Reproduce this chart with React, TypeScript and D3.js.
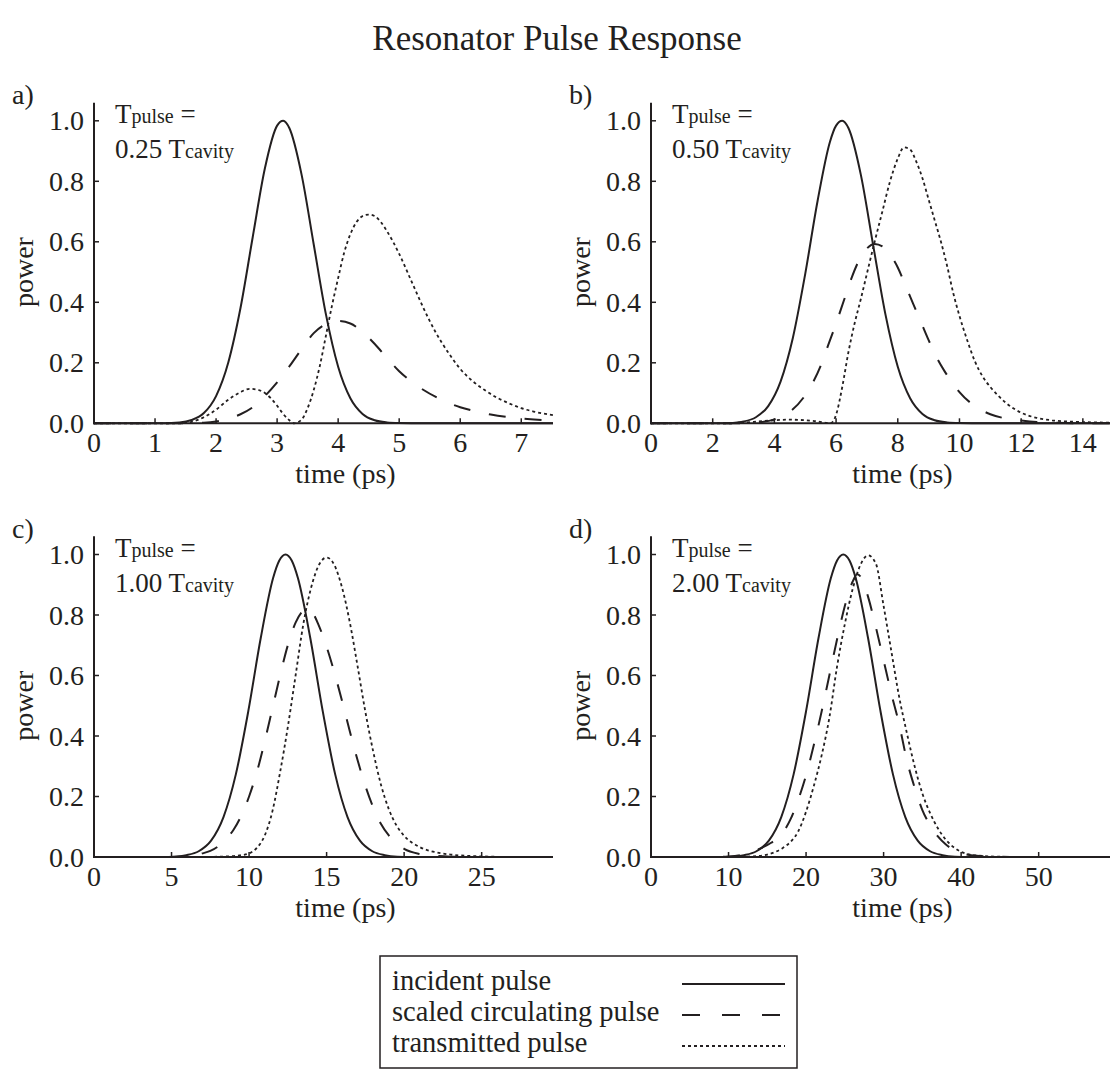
import React from 'react';
import * as d3 from 'd3';

type Pt = [number, number];

// ---- data: [time (ps), power] ----
const incidentA: Pt[] = [[0,0],[1.0,0.0001],[1.4,0.003],[1.6,0.011],[1.8,0.034],[2.0,0.09],[2.2,0.201],[2.4,0.381],[2.6,0.615],[2.8,0.843],[3.0,0.984],[3.1,1.0],[3.2,0.976],[3.4,0.823],[3.6,0.591],[3.8,0.36],[4.0,0.187],[4.2,0.083],[4.4,0.031],[4.6,0.01],[4.8,0.003],[5.0,0.001],[5.4,0],[7.52,0]];
const circA: Pt[] = [[0,0],[1.4,0],[1.8,0.002],[2.0,0.006],[2.2,0.015],[2.4,0.03],[2.6,0.053],[2.8,0.09],[3.0,0.135],[3.2,0.188],[3.4,0.245],[3.6,0.298],[3.8,0.328],[4.0,0.338],[4.2,0.33],[4.4,0.302],[4.6,0.262],[4.8,0.216],[5.0,0.172],[5.2,0.138],[5.4,0.11],[5.6,0.087],[5.8,0.068],[6.0,0.053],[6.2,0.042],[6.5,0.029],[6.8,0.02],[7.1,0.014],[7.52,0.009]];
const transA: Pt[] = [[0,0],[1.4,0],[1.6,0.005],[1.8,0.02],[2.0,0.045],[2.2,0.078],[2.4,0.103],[2.55,0.114],[2.7,0.11],[2.8,0.1],[2.9,0.082],[3.0,0.058],[3.1,0.031],[3.2,0.01],[3.28,0.0],[3.4,0.012],[3.5,0.05],[3.6,0.11],[3.7,0.19],[3.8,0.29],[3.9,0.39],[4.0,0.48],[4.1,0.565],[4.2,0.625],[4.3,0.665],[4.4,0.685],[4.5,0.69],[4.6,0.685],[4.7,0.665],[4.8,0.635],[4.9,0.6],[5.0,0.56],[5.2,0.47],[5.4,0.38],[5.6,0.3],[5.8,0.235],[6.0,0.18],[6.2,0.14],[6.4,0.11],[6.6,0.085],[6.8,0.066],[7.0,0.05],[7.2,0.039],[7.52,0.027]];

const incidentB: Pt[] = [[0,0],[2.4,0],[2.8,0.003],[3.0,0.006],[3.4,0.02],[3.8,0.057],[4.2,0.138],[4.6,0.283],[5.0,0.494],[5.4,0.735],[5.8,0.93],[6.0,0.984],[6.2,1.0],[6.4,0.976],[6.8,0.823],[7.2,0.59],[7.6,0.36],[8.0,0.187],[8.4,0.083],[8.8,0.031],[9.2,0.01],[9.6,0.003],[10.0,0.001],[10.8,0],[14.88,0]];
const circB: Pt[] = [[0,0],[3.0,0],[3.5,0.003],[4.0,0.013],[4.5,0.038],[5.0,0.093],[5.25,0.135],[5.5,0.19],[5.75,0.26],[6.0,0.33],[6.25,0.405],[6.5,0.48],[6.75,0.54],[7.0,0.578],[7.25,0.593],[7.5,0.585],[7.75,0.558],[8.0,0.515],[8.25,0.455],[8.5,0.395],[8.75,0.335],[9.0,0.275],[9.25,0.22],[9.5,0.175],[9.75,0.137],[10.0,0.103],[10.5,0.057],[11.0,0.03],[11.5,0.016],[12.0,0.009],[12.5,0.004],[13.0,0.002],[14.0,0],[14.88,0]];
const transB: Pt[] = [[0,0],[2.5,0],[3.0,0.002],[3.5,0.006],[4.0,0.01],[4.5,0.012],[5.0,0.01],[5.4,0.006],[5.7,0.001],[5.8,0],[5.9,0.006],[6.0,0.028],[6.2,0.12],[6.4,0.235],[6.6,0.33],[6.8,0.41],[7.0,0.495],[7.25,0.6],[7.5,0.7],[7.75,0.8],[8.0,0.875],[8.2,0.912],[8.4,0.905],[8.6,0.865],[8.8,0.81],[9.0,0.74],[9.2,0.67],[9.4,0.6],[9.6,0.52],[9.8,0.43],[10.0,0.355],[10.25,0.275],[10.5,0.205],[10.75,0.155],[11.0,0.12],[11.25,0.092],[11.5,0.068],[12.0,0.035],[12.5,0.018],[13.0,0.01],[13.5,0.006],[14.0,0.004],[14.88,0.002]];

const incidentC: Pt[] = [[0,0],[4.4,0],[5.2,0.001],[5.95,0.006],[6.75,0.019],[7.55,0.054],[8.35,0.132],[9.15,0.274],[9.95,0.482],[10.75,0.723],[11.55,0.922],[11.95,0.98],[12.35,1.0],[12.75,0.98],[13.15,0.922],[13.95,0.723],[14.75,0.482],[15.55,0.274],[16.35,0.132],[17.15,0.054],[17.95,0.019],[18.75,0.006],[19.55,0.001],[20.4,0],[29.6,0]];
const circC: Pt[] = [[0,0],[5,0],[6,0.004],[7,0.012],[7.5,0.02],[8.0,0.035],[8.5,0.058],[9.0,0.09],[9.5,0.137],[10.0,0.2],[10.5,0.28],[11.0,0.38],[11.5,0.49],[12.0,0.6],[12.5,0.7],[13.0,0.775],[13.5,0.815],[13.75,0.822],[14.0,0.815],[14.5,0.765],[15.0,0.695],[15.5,0.61],[16.0,0.515],[16.5,0.415],[17.0,0.32],[17.5,0.235],[18.0,0.165],[18.5,0.11],[19.0,0.072],[19.5,0.045],[20.0,0.027],[21.0,0.01],[22.0,0.004],[23.0,0.001],[24,0],[29.6,0]];
const transC: Pt[] = [[0,0],[7,0],[8,0.001],[9,0.003],[9.5,0.006],[10,0.012],[10.5,0.03],[11.0,0.07],[11.5,0.15],[12.0,0.28],[12.5,0.43],[13.0,0.6],[13.5,0.77],[14.0,0.89],[14.5,0.965],[15.0,0.99],[15.5,0.965],[16.0,0.89],[16.5,0.775],[17.0,0.63],[17.5,0.48],[18.0,0.35],[18.5,0.24],[19.0,0.16],[19.5,0.105],[20.0,0.07],[21.0,0.033],[22.0,0.016],[23.0,0.008],[24,0.004],[25,0.002],[27,0],[29.6,0]];

const incidentD: Pt[] = [[0,0],[8.8,0],[10.4,0.001],[12.0,0.006],[13.6,0.019],[15.2,0.054],[16.8,0.132],[18.4,0.274],[20.0,0.482],[21.6,0.723],[23.2,0.922],[24.0,0.98],[24.8,1.0],[25.6,0.98],[26.4,0.922],[28.0,0.723],[29.6,0.482],[31.2,0.274],[32.8,0.132],[34.4,0.054],[36.0,0.019],[37.6,0.006],[39.2,0.001],[40.8,0],[59.2,0]];
const circD: Pt[] = [[0,0],[8,0],[10,0.002],[12,0.009],[14,0.027],[15.5,0.047],[17,0.08],[18,0.125],[19,0.19],[20,0.27],[21,0.37],[22,0.48],[23,0.6],[24,0.72],[25,0.83],[26,0.91],[26.6,0.935],[27.2,0.92],[28,0.86],[29,0.76],[30,0.65],[31,0.54],[32,0.44],[33,0.32],[34,0.23],[35,0.155],[36,0.105],[37,0.068],[38,0.042],[39,0.024],[40,0.013],[42,0.004],[45,0.001],[47,0],[59.2,0]];
const transD: Pt[] = [[0,0],[10,0],[13,0.002],[15,0.008],[17,0.03],[18,0.05],[19,0.085],[20,0.15],[21,0.235],[22,0.335],[23,0.46],[24,0.63],[25,0.77],[26,0.885],[27,0.965],[28,0.997],[29,0.97],[30,0.83],[31,0.68],[32,0.53],[33,0.41],[34,0.3],[35,0.21],[36,0.145],[37,0.095],[38,0.058],[39,0.033],[40,0.017],[42,0.005],[45,0.001],[48,0],[59.2,0]];

const panelLetters = ['a)', 'b)', 'c)', 'd)'];
const pulseRatios = ['0.25', '0.50', '1.00', '2.00'];
const xMaxes = [7.52, 14.88, 29.6, 59.2];
const xTickSets = [
  [0, 1, 2, 3, 4, 5, 6, 7],
  [0, 2, 4, 6, 8, 10, 12, 14],
  [0, 5, 10, 15, 20, 25],
  [0, 10, 20, 30, 40, 50],
];
const yTicks = [0, 0.2, 0.4, 0.6, 0.8, 1.0];
const seriesByPanel: Pt[][][] = [
  [incidentA, circA, transA],
  [incidentB, circB, transB],
  [incidentC, circC, transC],
  [incidentD, circD, transD],
];
const legendLabels = ['incident pulse', 'scaled circulating pulse', 'transmitted pulse'];
const titleText = 'Resonator Pulse Response';
const xLabel = 'time (ps)';
const yLabel = 'power';

// ---- styles ----
const FONT = '"Liberation Serif", "Times New Roman", Times, serif';
const INK = '#231f20';
const lineStyles = [
  { dash: undefined as string | undefined, width: 2 },
  { dash: '17,19', width: 2 },
  { dash: '3,3', width: 1.8 },
];

function Panel({ i }: { i: number }) {
  const col = i % 2;
  const row = Math.floor(i / 2);
  const left = col ? 651 : 94;
  const base = row ? 857 : 423.3;
  const w = 459;
  const unit = 302.5;
  const x = d3.scaleLinear().domain([0, xMaxes[i]]).range([left, left + w]);
  const y = d3.scaleLinear().domain([0, 1]).range([base, base - unit]);
  const line = d3
    .line<Pt>()
    .x((d) => x(d[0]))
    .y((d) => y(d[1]))
    .curve(d3.curveMonotoneX);
  const fmt = d3.format('.1f');
  return (
    <g>
      {seriesByPanel[i].map((s, k) => (
        <path
          key={k}
          d={line(s) || ''}
          fill="none"
          stroke={INK}
          strokeWidth={lineStyles[k].width}
          strokeDasharray={lineStyles[k].dash}
        />
      ))}
      {/* axes */}
      <line x1={left} x2={left} y1={y(0) + 1} y2={y(1.06)} stroke={INK} strokeWidth={2} />
      <line x1={left - 1} x2={left + w} y1={y(0)} y2={y(0)} stroke={INK} strokeWidth={2} />
      {xTickSets[i].map((t) => (
        <g key={'x' + t}>
          <line x1={x(t)} x2={x(t)} y1={y(0)} y2={y(0) - 5} stroke={INK} strokeWidth={1.5} />
          <text x={x(t)} y={base + 29} textAnchor="middle" fontSize={28} fontFamily={FONT} fill={INK}>
            {t}
          </text>
        </g>
      ))}
      {yTicks.map((v) => (
        <g key={'y' + v}>
          <line x1={left} x2={left + 5} y1={y(v)} y2={y(v)} stroke={INK} strokeWidth={1.5} />
          <text x={left - 10} y={y(v) + 9.5} textAnchor="end" fontSize={28} fontFamily={FONT} fill={INK}>
            {fmt(v)}
          </text>
        </g>
      ))}
      <text x={left + w / 2 + 22} y={base + 60} textAnchor="middle" fontSize={28} fontFamily={FONT} fill={INK}>
        {xLabel}
      </text>
      <text
        transform={`translate(${left - 61},${y(0.5)}) rotate(-90)`}
        textAnchor="middle"
        fontSize={28}
        fontFamily={FONT}
        fill={INK}
      >
        {yLabel}
      </text>
      <text x={left - 82} y={base - 319.3} fontSize={28} fontFamily={FONT} fill={INK}>
        {panelLetters[i]}
      </text>
      <text x={left + 21} y={base - 300} fontSize={27} fontFamily={FONT} fill={INK}>
        T<tspan fontSize={20}>pulse</tspan> =
      </text>
      <text x={left + 21} y={base - 265} fontSize={27} fontFamily={FONT} fill={INK}>
        {pulseRatios[i]} T<tspan fontSize={20}>cavity</tspan>
      </text>
    </g>
  );
}

export default function App() {
  return (
    <svg
      width={1110}
      height={1070}
      viewBox="0 0 1110 1070"
      style={{ position: 'absolute', left: 0, top: 0, background: '#fff' }}
    >
      <rect x={0} y={0} width={1110} height={1070} fill="#fff" />
      <text x={557} y={50} textAnchor="middle" fontSize={35} fontFamily={FONT} fill={INK}>
        {titleText}
      </text>
      {[0, 1, 2, 3].map((i) => (
        <Panel key={i} i={i} />
      ))}
      <g>
        <rect x={380} y={956} width={417} height={112} fill="none" stroke={INK} strokeWidth={1.5} />
        {legendLabels.map((lab, k) => (
          <g key={lab}>
            <text x={392} y={990 + k * 31} fontSize={28.5} fontFamily={FONT} fill={INK}>
              {lab}
            </text>
            <line
              x1={682}
              x2={785}
              y1={984 + k * 31}
              y2={984 + k * 31}
              stroke={INK}
              strokeWidth={lineStyles[k].width}
              strokeDasharray={k === 1 ? '18,22' : lineStyles[k].dash}
            />
          </g>
        ))}
      </g>
    </svg>
  );
}
